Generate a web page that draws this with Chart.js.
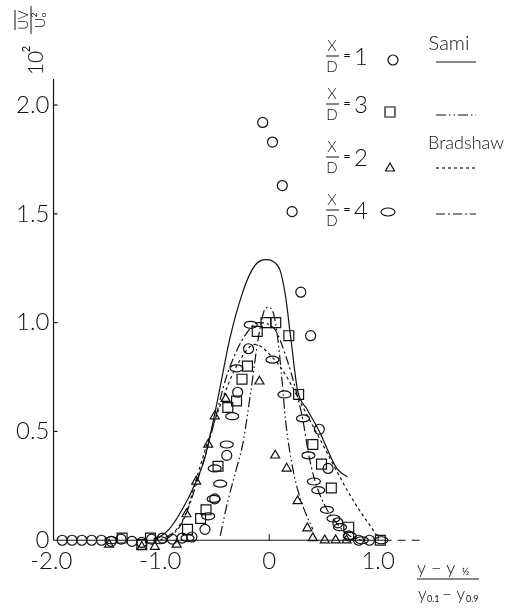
<!DOCTYPE html>
<html>
<head>
<meta charset="utf-8">
<script src="https://cdn.jsdelivr.net/npm/chart.js@4"></script>
<style>
  html, body { margin: 0; padding: 0; background: #fff; }
  canvas { display: block; }
</style>
</head>
<body>
<canvas id="chart" width="509" height="611"></canvas>
<script>
// --- DATA ---
// X/D = 1, circles
const circX = [-0.06, 0.03, 0.12, 0.21, 0.29, 0.38, -0.19, -0.29, 0.46, -0.39, 0.54, -0.50, -0.59, 0.63, 0.73, 0.82, 0.92,
  -1.90, -1.81, -1.72, -1.63, -1.54, -1.45, -1.36, -1.26, -1.17, -1.08, -0.98, -0.89, -0.80, -0.71];
const circY = [1.92, 1.83, 1.63, 1.51, 1.14, 0.94, 0.88, 0.68, 0.51, 0.39, 0.33, 0.19, 0.05, 0.08, 0.02, 0.0, 0.0,
  0.0, 0.0, 0.0, 0.0, 0.0, -0.005, 0.005, -0.005, -0.01, 0.005, 0.01, 0.005, 0.01, 0.015];

// X/D = 3, squares
const sqX = [-0.03, 0.06, -0.11, 0.18, -0.20, -0.25, 0.27, -0.30, -0.38, 0.40, 0.48, -0.47, 0.57, -0.58, -0.63, 0.73, -0.75, 1.02, -1.09, -1.35, -1.17];
const sqY = [1.00, 1.00, 0.96, 0.94, 0.80, 0.74, 0.67, 0.64, 0.61, 0.44, 0.35, 0.34, 0.24, 0.14, 0.10, 0.06, 0.05, 0.0, 0.01, 0.01, -0.02];

// X/D = 2, triangles
const triX = [-0.09, 0.055, -0.40, -0.50, -0.56, 0.16, 0.26, 0.35, 0.40, 0.51, 0.61, 0.71, -0.67, -0.76, -0.85, -1.05, -1.17, -1.47];
const triY = [0.73, 0.39, 0.65, 0.57, 0.44, 0.33, 0.18, 0.055, 0.01, 0.0, 0.0, 0.0, 0.27, 0.12, -0.02, -0.03, -0.03, -0.02];

// X/D = 4, ellipses
const ellX = [-0.17, 0.03, -0.30, 0.14, -0.34, 0.31, -0.39, 0.36, 0.41, 0.45, 0.53, 0.59, 0.74, -0.45, -0.51, -0.56, -0.50, 0.65, 0.85, 1.03, -0.75, -1.45, -1.00];
const ellY = [0.99, 0.83, 0.79, 0.67, 0.57, 0.56, 0.44, 0.39, 0.27, 0.23, 0.14, 0.10, 0.02, 0.26, 0.19, 0.11, 0.33, 0.06, 0.0, 0.0, 0.01, 0.0, 0.0];

// Sami, X/D = 1 (solid)
const samiX1 = [-1.05, -0.92, -0.80, -0.68, -0.59, -0.48, -0.36, -0.25, -0.16, -0.08, -0.02, 0.04, 0.10, 0.15, 0.20, 0.26, 0.35, 0.46, 0.62, 0.72];
const samiY1 = [0.0, 0.05, 0.14, 0.26, 0.38, 0.63, 0.93, 1.13, 1.24, 1.285, 1.29, 1.28, 1.24, 1.12, 0.92, 0.69, 0.60, 0.50, 0.33, 0.29];

// Sami, X/D = 3 (dash dot dot)
const samiX3 = [-0.45, -0.38, -0.30, -0.24, -0.17, -0.10, -0.05, -0.01, 0.04, 0.08, 0.12, 0.15, 0.22, 0.30, 0.40];
const samiY3 = [0.02, 0.18, 0.33, 0.45, 0.68, 0.93, 1.05, 1.07, 1.04, 0.92, 0.72, 0.55, 0.32, 0.17, 0.05];

// Bradshaw, X/D = 2 (dotted)
const bradX2 = [-1.00, -0.85, -0.76, -0.67, -0.56, -0.45, -0.30, -0.13, 0.03, 0.15, 0.30, 0.47, 0.75, 0.99];
const bradY2 = [0.0, 0.05, 0.13, 0.28, 0.46, 0.62, 0.80, 0.90, 0.84, 0.76, 0.62, 0.46, 0.20, 0.02];

// Bradshaw, X/D = 4 (dash dot)
const bradX4 = [-0.95, -0.80, -0.63, -0.50, -0.40, -0.30, -0.21, -0.10, 0.05, 0.15, 0.25, 0.31, 0.36, 0.41, 0.50, 0.60, 0.74, 0.85];
const bradY4 = [0.0, 0.08, 0.32, 0.55, 0.74, 0.87, 0.95, 1.00, 0.97, 0.85, 0.68, 0.55, 0.40, 0.29, 0.17, 0.09, 0.02, 0.0];

const yTicks = [0, 0.5, 1.0, 1.5, 2.0];
const yTickLabels = ['0', '0.5', '1.0', '1.5', '2.0'];
const xTicks = [-2.0, -1.0, 0, 1.0];
const xTickLabels = ['-2.0', '-1.0', '0', '1.0'];

const INK = '#111';
const FONT = '"Lato", "DejaVu Sans", sans-serif';
const W = '300 ';

function pts(xs, ys) {
  return xs.map((x, i) => ({ x: x, y: ys[i] }));
}

const DASH_SOLID = [];
const DASH_DDOT = [10, 3, 1.5, 3, 1.5, 3];
const DASH_DOT = [3, 3];
const DASH_DASHDOT = [9, 3, 2, 3];

function curve(xs, ys, dash) {
  return {
    type: 'line', data: pts(xs, ys), borderColor: INK, borderWidth: 1.2,
    borderDash: dash, pointRadius: 0, cubicInterpolationMode: 'monotone', fill: false
  };
}
function marks(xs, ys, style, r) {
  return {
    type: 'scatter', data: pts(xs, ys), pointStyle: style, pointRadius: r,
    borderColor: INK, pointBorderWidth: 1.2, backgroundColor: 'rgba(255,255,255,0)'
  };
}

// ellipse markers: Chart.js has no ellipse style, so the points are placed by
// the library (radius 0) and outlined here at their computed positions
const ellipseMarks = {
  id: 'ellipseMarks',
  afterDatasetsDraw(chart) {
    const ctx = chart.ctx;
    const meta = chart.getDatasetMeta(7);
    ctx.save();
    ctx.strokeStyle = INK;
    ctx.lineWidth = 1.2;
    meta.data.forEach(p => {
      ctx.beginPath();
      ctx.ellipse(p.x, p.y, 6.5, 3.5, 0, 0, Math.PI * 2);
      ctx.stroke();
    });
    ctx.restore();
  }
};

// --- custom axes, labels and legend drawn on top of the scales ---
const figureDecor = {
  id: 'figureDecor',
  afterDraw(chart) {
    const ctx = chart.ctx;
    const xs = chart.scales.x, ys = chart.scales.y;
    const X = v => xs.getPixelForValue(v);
    const Y = v => ys.getPixelForValue(v);
    ctx.save();
    ctx.strokeStyle = INK;
    ctx.fillStyle = INK;
    ctx.lineWidth = 1.2;

    // y axis
    ctx.beginPath();
    ctx.moveTo(X(-1.98), Y(0));
    ctx.lineTo(X(-1.98), Y(2.12));
    ctx.stroke();
    yTicks.forEach(t => {
      if (t === 0) return;
      ctx.beginPath();
      ctx.moveTo(X(-1.98), Y(t));
      ctx.lineTo(X(-1.98) + 4, Y(t));
      ctx.stroke();
    });
    ctx.font = W + '24px ' + FONT;
    ctx.textAlign = 'right';
    ctx.textBaseline = 'middle';
    yTicks.forEach((t, i) => ctx.fillText(yTickLabels[i], X(-1.98) - 4, Y(t)));

    // x axis: solid part then dashed tail
    ctx.lineWidth = 1;
    ctx.beginPath();
    ctx.moveTo(X(-1.98), Y(0));
    ctx.lineTo(X(1.05), Y(0));
    ctx.stroke();
    ctx.setLineDash([8, 6]);
    ctx.beginPath();
    ctx.moveTo(X(1.05), Y(0));
    ctx.lineTo(X(1.42), Y(0));
    ctx.stroke();
    ctx.setLineDash([]);
    [0, 1.0].forEach(t => {
      ctx.beginPath();
      ctx.moveTo(X(t), Y(0));
      ctx.lineTo(X(t), Y(0) - 6);
      ctx.stroke();
    });
    ctx.textAlign = 'center';
    xTicks.forEach((t, i) => ctx.fillText(xTickLabels[i], X(t), Y(0) + 21));

    // x axis title:  (y - y1/2) / (y0.1 - y0.9)
    ctx.lineWidth = 1;
    ctx.font = W + '18px ' + FONT;
    ctx.textAlign = 'left';
    ctx.fillText('y \u2212 y', 417, 568);
    ctx.font = '10px ' + FONT;
    ctx.fillText('\u00bd', 462, 572);
    ctx.beginPath();
    ctx.moveTo(417, 579); ctx.lineTo(479, 579); ctx.stroke();
    ctx.font = W + '17px ' + FONT;
    ctx.fillText('y', 418, 595);
    ctx.font = '9px ' + FONT;
    ctx.fillText('0.1', 427, 599);
    ctx.font = W + '17px ' + FONT;
    ctx.fillText('\u2212 y', 442, 595);
    ctx.font = '9px ' + FONT;
    ctx.fillText('0.9', 466, 599);

    // y axis title, rotated:  uv / U0^2  and  10^2
    ctx.save();
    ctx.translate(31, 20);
    ctx.rotate(-Math.PI / 2);
    ctx.textAlign = 'center';
    ctx.font = W + '14px ' + FONT;
    ctx.fillText('UV', 0, -8);
    ctx.beginPath(); ctx.moveTo(-10, -16); ctx.lineTo(10, -16); ctx.stroke();
    ctx.beginPath(); ctx.moveTo(-14, 0); ctx.lineTo(14, 0); ctx.stroke();
    ctx.fillText('U', -3, 9);
    ctx.font = '8px ' + FONT;
    ctx.fillText('o', 5, 12);
    ctx.fillText('2', 5, 3);
    ctx.restore();

    ctx.save();
    ctx.translate(34, 60);
    ctx.rotate(-Math.PI / 2);
    ctx.textAlign = 'center';
    ctx.font = W + '21px ' + FONT;
    ctx.fillText('10', -3, 2);
    ctx.font = '11px ' + FONT;
    ctx.fillText('2', 11, -8);
    ctx.restore();

    // legend
    const rows = [
      { n: '1', y: 56, mark: 'circle', mx: 393, my: 60, dash: DASH_SOLID, ly: 62 },
      { n: '3', y: 104, mark: 'rect', mx: 390, my: 112, dash: DASH_DDOT, ly: 115 },
      { n: '2', y: 157, mark: 'triangle', mx: 390, my: 168, dash: DASH_DOT, ly: 168 },
      { n: '4', y: 210, mark: 'ellipse', mx: 388, my: 212, dash: DASH_DASHDOT, ly: 214 }
    ];
    rows.forEach(r => {
      ctx.textAlign = 'center';
      ctx.font = W + '15px ' + FONT;
      ctx.fillText('X', 332, r.y - 10);
      ctx.fillText('D', 332, r.y + 11);
      ctx.lineWidth = 1;
      ctx.beginPath(); ctx.moveTo(326, r.y); ctx.lineTo(339, r.y); ctx.stroke();
      ctx.font = '13px ' + FONT;
      ctx.fillText('=', 347, r.y);
      ctx.font = W + '24px ' + FONT;
      ctx.textAlign = 'left';
      ctx.fillText(r.n, 354, r.y + 1);
      ctx.lineWidth = 1.2;
      ctx.beginPath();
      if (r.mark === 'circle') {
        ctx.arc(r.mx, r.my, 5, 0, Math.PI * 2);
      } else if (r.mark === 'rect') {
        ctx.rect(r.mx - 5, r.my - 5, 10, 10);
      } else if (r.mark === 'triangle') {
        ctx.moveTo(r.mx, r.my - 5); ctx.lineTo(r.mx + 4.5, r.my + 3); ctx.lineTo(r.mx - 4.5, r.my + 3); ctx.closePath();
      } else {
        ctx.ellipse(r.mx, r.my, 7, 4, 0, 0, Math.PI * 2);
      }
      ctx.stroke();
      ctx.setLineDash(r.dash);
      ctx.beginPath(); ctx.moveTo(436, r.ly); ctx.lineTo(476, r.ly); ctx.stroke();
      ctx.setLineDash([]);
    });
    ctx.textAlign = 'center';
    ctx.font = W + '20px ' + FONT;
    ctx.fillText('Sami', 449, 44);
    ctx.font = W + '18px ' + FONT;
    ctx.fillText('Bradshaw', 466, 143);

    ctx.restore();
  }
};

new Chart(document.getElementById('chart'), {
  type: 'scatter',
  data: {
    datasets: [
      curve(samiX1, samiY1, DASH_SOLID),
      curve(samiX3, samiY3, DASH_DDOT),
      curve(bradX2, bradY2, DASH_DOT),
      curve(bradX4, bradY4, DASH_DASHDOT),
      marks(circX, circY, 'circle', 5),
      marks(sqX, sqY, 'rect', 7),
      marks(triX, triY, 'triangle', 5.2),
      marks(ellX, ellY, 'circle', 0)
    ]
  },
  options: {
    responsive: false,
    animation: false,
    layout: { padding: { left: 35, right: 11, top: 18, bottom: 49 } },
    scales: {
      x: { type: 'linear', min: -2.15, max: 2.1, display: false },
      y: { type: 'linear', min: -0.1, max: 2.4, display: false }
    },
    plugins: { legend: { display: false }, tooltip: { enabled: false } }
  },
  plugins: [ellipseMarks, figureDecor]
});
</script>
</body>
</html>
